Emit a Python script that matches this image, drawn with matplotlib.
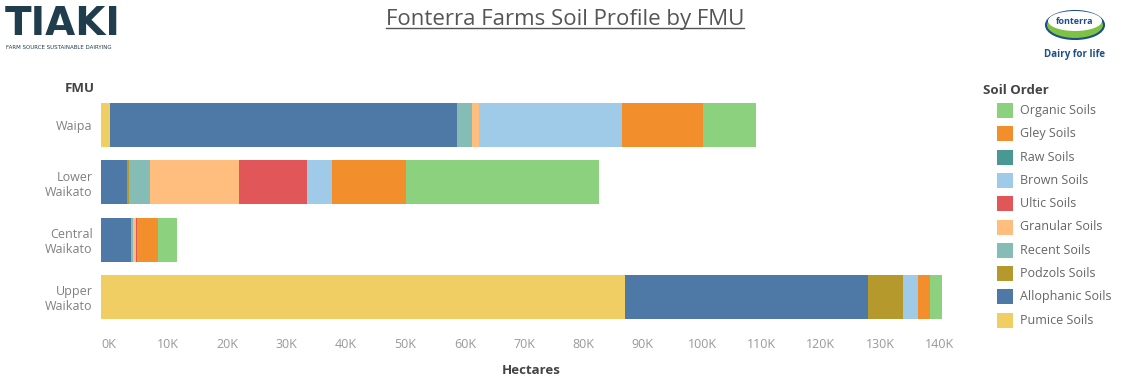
import numpy as np
import matplotlib.pyplot as plt
import matplotlib.transforms as mtransforms
from matplotlib.patches import Rectangle, Ellipse
from matplotlib.ticker import FuncFormatter

plt.rcParams['font.family'] = ['Open Sans', 'DejaVu Sans']

# hectares (thousands) per soil order and FMU
fmus = ['Waipa', 'Lower\nWaikato', 'Central\nWaikato', 'Upper\nWaikato']
soil_orders = ['Pumice Soils', 'Allophanic Soils', 'Podzols Soils', 'Recent Soils',
               'Granular Soils', 'Ultic Soils', 'Brown Soils', 'Raw Soils',
               'Gley Soils', 'Organic Soils']
pumice     = [1.5, 0.0, 0.0, 88.4]
allophanic = [58.5, 4.4, 5.0, 41.0]
podzols    = [0.0, 0.4, 0.0, 5.9]
recent     = [2.5, 3.4, 0.4, 0.0]
granular   = [1.3, 15.0, 0.5, 0.0]
ultic      = [0.0, 11.5, 0.2, 0.0]
brown      = [24.0, 4.2, 0.0, 2.5]
raw        = [0.0, 0.0, 0.0, 0.0]
gley       = [13.7, 12.6, 3.5, 2.0]
organic    = [8.9, 32.4, 3.2, 2.0]

series = [pumice, allophanic, podzols, recent, granular, ultic, brown, raw, gley, organic]
colors = {'Organic Soils': '#8CD17D', 'Gley Soils': '#F28E2B', 'Raw Soils': '#499894',
          'Brown Soils': '#A0CBE8', 'Ultic Soils': '#E15759', 'Granular Soils': '#FFBE7D',
          'Recent Soils': '#86BCB6', 'Podzols Soils': '#B6992D',
          'Allophanic Soils': '#4E79A7', 'Pumice Soils': '#F1CE63'}
legend_order = ['Organic Soils', 'Gley Soils', 'Raw Soils', 'Brown Soils', 'Ultic Soils',
                'Granular Soils', 'Recent Soils', 'Podzols Soils', 'Allophanic Soils',
                'Pumice Soils']

W, H = 1127, 382
fig = plt.figure(figsize=(W / 100, H / 100), dpi=100)
ax = fig.add_axes([101 / W, 1 - 325.5 / H, 860 / W, 229 / H])

y = np.arange(len(fmus))
left = np.zeros(len(fmus))
for name, vals in zip(soil_orders, series):
    vals = np.array(vals)
    ax.barh(y, vals, left=left, height=0.77, color=colors[name], edgecolor='none')
    left += vals

ax.set_xlim(0, 145)
ax.set_ylim(len(fmus) - 0.5, -0.5)
ax.set_xticks(np.arange(0, 141, 10))
ax.xaxis.set_major_formatter(FuncFormatter(lambda v, p: f'{int(v)}K'))
ax.set_yticks(y)
ax.set_yticklabels(fmus, ha='right', multialignment='right')
ax.tick_params(axis='x', length=0, labelsize=9, colors='#999999', pad=9)
ax.tick_params(axis='y', length=0, labelsize=9, colors='#808080', pad=6)
# nudge x tick labels a little to the right
shift = mtransforms.ScaledTranslation(8 / 100, 0, fig.dpi_scale_trans)
for lbl in ax.get_xticklabels():
    lbl.set_transform(lbl.get_transform() + shift)
for s in ax.spines.values():
    s.set_visible(False)
ax.set_xlabel('Hectares', fontsize=9.5, fontweight='bold', color='#444444', labelpad=9)
fig.text(80 / W, 1 - 88 / H, 'FMU', fontsize=9.5, fontweight='bold', color='#444444',
         ha='center', va='center')

# title with underline
title = fig.text(565 / W, 1 - 19 / H, 'Fonterra Farms Soil Profile by FMU', fontsize=16,
                 color='#555555', ha='center', va='center')
fig.canvas.draw()
bb = title.get_window_extent().transformed(fig.transFigure.inverted())
fig.add_artist(plt.Line2D([bb.x0, bb.x1], [bb.y0 + 0.004, bb.y0 + 0.004],
                          transform=fig.transFigure, color='#555555', lw=1))

# left logo
fig.text(5 / W, 1 - 35 / H, 'TIAKI', fontsize=28, fontweight='bold', color='#1F3D4C',
         ha='left', va='baseline', family='DejaVu Sans')
fig.text(6 / W, 1 - 45 / H, 'FARM SOURCE SUSTAINABLE DAIRYING', fontsize=4,
         color='#1F3D4C', ha='left', va='top', family='DejaVu Sans')

# right logo
logo = fig.add_axes([1038 / W, 1 - 64 / H, 74 / W, 56 / H])
logo.set_xlim(0, 74)
logo.set_ylim(0, 56)
logo.axis('off')
logo.add_patch(Ellipse((37, 39), 58, 28, facecolor='#7DC242', edgecolor='#1E4E8C', lw=1.5))
logo.add_patch(Ellipse((37, 43), 54, 20, facecolor='white', edgecolor='none'))
logo.text(37, 43, 'fonterra', fontsize=6.5, fontweight='bold', color='#1E4E8C',
          ha='center', va='center')
logo.text(37, 9, 'Dairy for life', fontsize=7, fontweight='bold', color='#1E4E8C',
          ha='center', va='center')

# legend
fig.text(983 / W, 1 - 90 / H, 'Soil Order', fontsize=9.5, fontweight='bold',
         color='#444444', ha='left', va='center')
for i, name in enumerate(legend_order):
    yc = 110.5 + i * 23.3
    fig.add_artist(Rectangle((997 / W, 1 - (yc + 7.5) / H), 16 / W, 15 / H,
                             transform=fig.transFigure, facecolor=colors[name],
                             edgecolor='none'))
    fig.text(1020 / W, 1 - yc / H, name, fontsize=9, color='#666666',
             ha='left', va='center')

fig.savefig('out.png', dpi=100)
